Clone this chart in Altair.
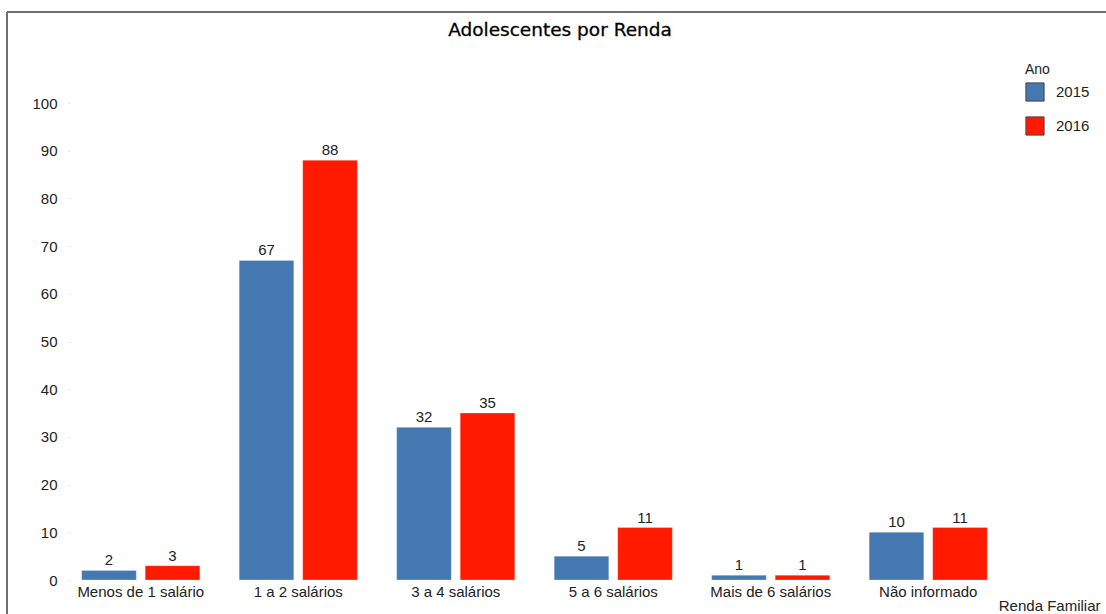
import altair as alt
import pandas as pd

titulo = "Adolescentes por Renda"
categorias = ["Menos de 1 salário", "1 a 2 salários", "3 a 4 salários",
              "5 a 6 salários", "Mais de 6 salários", "Não informado"]
anos = ["2015", "2016"]
valores_2015 = [2, 67, 32, 5, 1, 10]
valores_2016 = [3, 88, 35, 11, 1, 11]
cores = ["#4577B1", "#FF1A00"]

rows = []
for c, v in zip(categorias, valores_2015):
    rows.append({"Renda": c, "Ano": "2015", "Valor": v})
for c, v in zip(categorias, valores_2016):
    rows.append({"Renda": c, "Ano": "2016", "Valor": v})
df = pd.DataFrame(rows)

FONT = "Liberation Sans"

x_enc = alt.X("Renda:N", sort=categorias,
              scale=alt.Scale(paddingInner=0.25, paddingOuter=0.125),
              axis=alt.Axis(title="Renda Familiar", labelAngle=0, domain=False, ticks=False,
                            labelFont=FONT, labelFontSize=15, labelColor="#222",
                            labelPadding=4,
                            titleFont=FONT, titleFontSize=15, titleFontWeight="normal",
                            titleColor="#222", titleAnchor="end", titleAlign="right",
                            titleX=1038, titleY=30, titleBaseline="alphabetic"))
xoff = alt.XOffset("Ano:N", sort=anos, scale=alt.Scale(paddingInner=0.14))
y_enc = alt.Y("Valor:Q", scale=alt.Scale(domain=[0, 100], nice=False),
              axis=alt.Axis(title=None, values=list(range(0, 101, 10)), grid=False, domain=False,
                            tickColor="#dddddd", tickSize=2, offset=-8, labelPadding=11,
                            labelFont=FONT, labelFontSize=15, labelColor="#222"))

bars = alt.Chart(df).mark_bar(strokeWidth=0.8, strokeOpacity=0.35, stroke="white").encode(
    x=x_enc, xOffset=xoff, y=y_enc,
    color=alt.Color("Ano:N", sort=anos, scale=alt.Scale(domain=anos, range=cores),
                    legend=alt.Legend(title="Ano", orient="none", legendX=963, legendY=-40,
                                      symbolType="square", symbolSize=330,
                                      symbolStrokeColor="#444", symbolStrokeWidth=1,
                                      symbolOpacity=1,
                                      rowPadding=10, titleFont=FONT, titleFontSize=14,
                                      titleFontWeight="normal", titleColor="#222",
                                      titlePadding=5,
                                      labelFont=FONT, labelFontSize=15, labelColor="#222",
                                      labelOffset=11)),
)

labels = alt.Chart(df).mark_text(dy=-10, font=FONT, fontSize=15, color="#222").encode(
    x=alt.X("Renda:N", sort=categorias), xOffset=xoff,
    y=alt.Y("Valor:Q"), text=alt.Text("Valor:Q"),
)

single = alt.Data(values=[{"t": titulo}])
title_mark = alt.Chart(single).mark_text(font="DejaVu Sans", fontSize=18.5, color="#000",
                                         align="center", baseline="alphabetic",
                                         stroke="#000", strokeWidth=0.3).encode(
    x=alt.value(498), y=alt.value(-67), text="t:N")

vline = alt.Chart(single).mark_rule(color="#6f6f6f", strokeWidth=2).encode(
    x=alt.value(-55), y=alt.value(-91), y2=alt.value(520))
hline = alt.Chart(single).mark_rule(color="#6f6f6f", strokeWidth=2).encode(
    x=alt.value(-55), x2=alt.value(1050), y=alt.value(-91))

chart = alt.layer(bars, labels, title_mark, vline, hline).properties(
    width=945, height=477,
    autosize=alt.AutoSizeParams(type="none"),
    padding={"left": 62, "top": 103, "right": 99, "bottom": 34},
).configure_view(stroke=None)

chart.save("out.html", embed_options={"renderer": "svg", "actions": False})
